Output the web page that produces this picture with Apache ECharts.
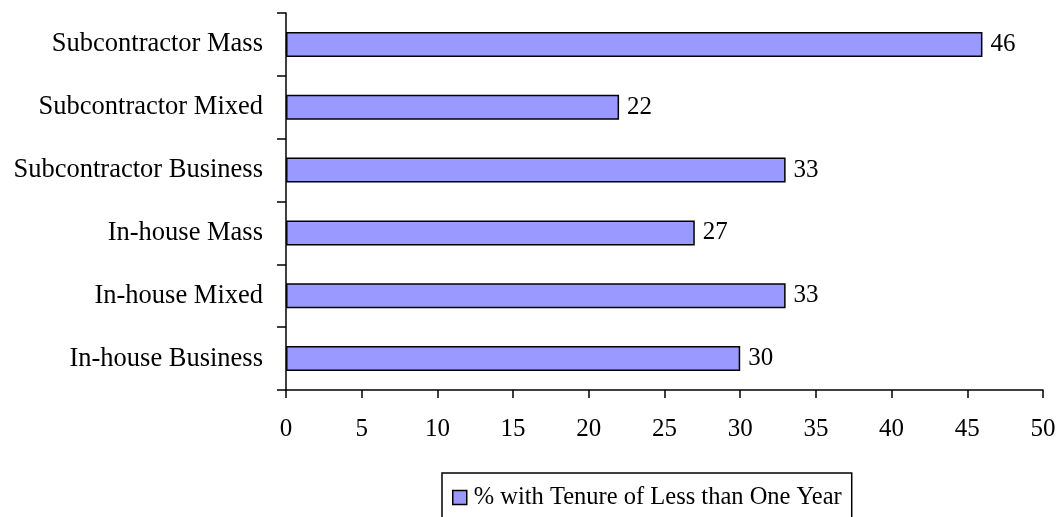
<!DOCTYPE html>
<html>
<head>
<meta charset="utf-8">
<script src="https://cdn.jsdelivr.net/npm/echarts@6/dist/echarts.min.js"></script>
<style>
  html, body { margin: 0; padding: 0; background: #fff; }
  #chart { width: 1061px; height: 517px; }
</style>
</head>
<body>
<div id="chart"></div>
<script>
// Groups, listed top to bottom
const categories = [
  'Subcontractor Mass',
  'Subcontractor Mixed',
  'Subcontractor Business',
  'In-house Mass',
  'In-house Mixed',
  'In-house Business'
];
// % with tenure of less than one year
const tenureValues = [46, 22, 33, 27, 33, 30];
const seriesName = '% with Tenure of Less than One Year';
const xTicks = { min: 0, max: 50, interval: 5 };

const FONT = '"Liberation Serif", "Times New Roman", serif';

const chart = echarts.init(document.getElementById('chart'), null, { renderer: 'canvas' });
chart.setOption({
  animation: false,
  backgroundColor: '#ffffff',
  textStyle: { fontFamily: FONT, color: '#000' },
  grid: { left: 286, right: 18, top: 13, bottom: 127, containLabel: false },
  legend: {
    data: [{ name: seriesName, icon: 'rect' }],
    left: 442,
    top: 473,
    orient: 'horizontal',
    padding: [12, 10, 14, 10],
    borderColor: '#000',
    borderWidth: 1.5,
    itemWidth: 14,
    itemHeight: 14,
    itemGap: 10,
    textStyle: { fontFamily: FONT, fontSize: 24.5, color: '#000', padding: [0, 0, 0, 2] },
    itemStyle: { borderColor: '#000', borderWidth: 1.5 }
  },
  xAxis: {
    type: 'value',
    min: xTicks.min,
    max: xTicks.max,
    interval: xTicks.interval,
    splitLine: { show: false },
    axisLine: { show: true, lineStyle: { color: '#000', width: 1.5 } },
    axisTick: { show: true, length: 8, inside: false, lineStyle: { color: '#000', width: 1.5 } },
    axisLabel: { fontFamily: FONT, fontSize: 25, color: '#000', margin: 27 }
  },
  yAxis: {
    type: 'category',
    data: categories,
    inverse: true,
    boundaryGap: true,
    axisLine: { show: true, lineStyle: { color: '#000', width: 1.5 } },
    axisTick: { show: true, length: 9, inside: false, lineStyle: { color: '#000', width: 1.5 } },
    axisLabel: { fontFamily: FONT, fontSize: 26.5, color: '#000', margin: 23 },
    splitLine: { show: false }
  },
  series: [{
    name: seriesName,
    type: 'bar',
    data: tenureValues,
    barWidth: 25,
    itemStyle: { color: '#9999FF', borderColor: '#000', borderWidth: 1.5 },
    label: {
      show: true,
      position: 'right',
      distance: 8,
      fontFamily: FONT,
      fontSize: 25,
      color: '#000'
    }
  }]
});
</script>
</body>
</html>
